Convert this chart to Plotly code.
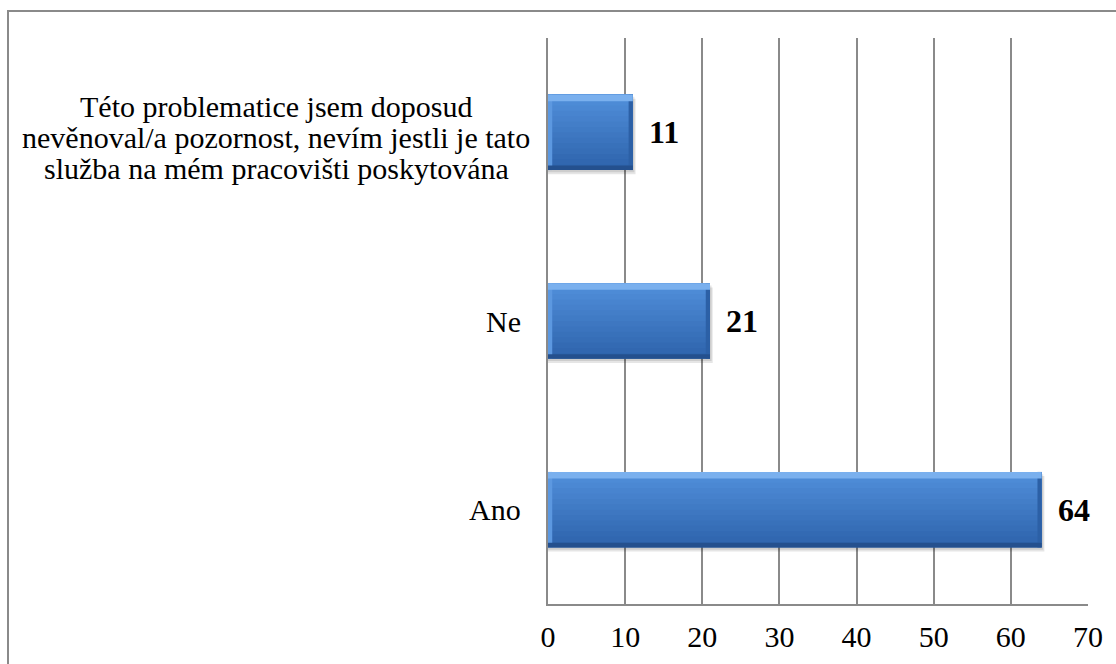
import plotly.graph_objects as go

# Survey answers (bottom to top) and respondent counts
categories = [
    "Ano",
    "Ne",
    "Této problematice jsem doposud<br>nevěnoval/a pozornost, nevím jestli je tato<br>služba na mém pracovišti poskytována",
]
counts = [64, 21, 11]
x_ticks = [0, 10, 20, 30, 40, 50, 60, 70]

FONT = "Liberation Serif"
TEXT_SIZE = 30
pos = list(range(len(categories)))
BAR_W = 0.40
LINE_PX = 31          # line pitch for wrapped category labels
END_BEVEL = 0.55      # width of the bevel at each bar end (axis units)


def hbar(x, width, offset, color, base=None):
    return go.Bar(
        y=pos, x=x, base=base, orientation="h", width=width, offset=offset,
        marker=dict(color=color, line=dict(width=0)),
        hoverinfo="skip", showlegend=False,
    )


fig = go.Figure()

# soft drop shadow, slightly below and right of each bar
fig.add_trace(hbar([v + 0.35 for v in counts], BAR_W, -BAR_W / 2 - 0.022, "rgba(0,0,0,0.10)"))
fig.add_trace(hbar([v + 0.2 for v in counts], BAR_W, -BAR_W / 2 - 0.012, "rgba(0,0,0,0.10)"))

# vertical colour gradient built from overlapping strips
top_rgb = (80, 142, 218)
bot_rgb = (46, 100, 172)
n_strips = 14
strip = BAR_W / n_strips
for i in range(n_strips):
    t = i / (n_strips - 1)
    c = tuple(int(round(bot_rgb[k] + (top_rgb[k] - bot_rgb[k]) * t)) for k in range(3))
    fig.add_trace(hbar(counts, BAR_W - i * strip, -BAR_W / 2 + i * strip, "rgb(%d,%d,%d)" % c))

# bevel: light left edge, darker right end
fig.add_trace(hbar([END_BEVEL] * len(counts), BAR_W, -BAR_W / 2, "rgb(92,152,224)"))
fig.add_trace(hbar([END_BEVEL] * len(counts), BAR_W, -BAR_W / 2, "rgb(44,96,166)",
                   base=[v - END_BEVEL for v in counts]))

# bevel highlight along the top edge and dark rim along the bottom
fig.add_trace(hbar(counts, 0.035, BAR_W / 2 - 0.035, "rgb(122,176,238)"))
fig.add_trace(hbar(counts, 0.024, -BAR_W / 2, "rgb(36,80,142)"))

# value labels to the right of the bars
for p, v in zip(pos, counts):
    fig.add_annotation(
        x=v, y=p, xref="x", yref="y", text="<b>%d</b>" % v, showarrow=False,
        xanchor="left", yanchor="middle", xshift=14,
        font=dict(family=FONT, size=32, color="black"),
    )

# category labels: single lines right-aligned, wrapped lines centred as a block
for p, name in zip(pos, categories):
    lines = name.split("<br>")
    n = len(lines)
    for j, line in enumerate(lines):
        if n == 1:
            fig.add_annotation(
                x=0, y=p, xref="paper", yref="y", text=line, showarrow=False,
                xanchor="right", yanchor="middle", xshift=-25,
                font=dict(family=FONT, size=TEXT_SIZE, color="black"),
            )
        else:
            fig.add_annotation(
                x=-0.5037, y=p, xref="paper", yref="y", text=line, showarrow=False,
                xanchor="center", yanchor="middle",
                yshift=((n - 1) / 2 - j) * LINE_PX - 5,
                font=dict(family=FONT, size=TEXT_SIZE, color="black"),
            )

# outer chart frame
fig.add_shape(
    type="rect", xref="paper", yref="paper",
    x0=-1.0, x1=1.2, y0=-0.3, y1=1.0477,
    line=dict(color="#8a8a8a", width=2), layer="below",
)

fig.update_layout(
    width=1116, height=664,
    margin=dict(l=548, r=28, t=38, b=60),
    paper_bgcolor="white", plot_bgcolor="white",
    barmode="overlay", showlegend=False,
    font=dict(family=FONT, size=TEXT_SIZE, color="black"),
)
fig.update_xaxes(
    range=[0, 70], tickvals=x_ticks, ticktext=[str(t) for t in x_ticks],
    showgrid=True, gridcolor="#8a8a8a", gridwidth=1.5,
    showline=True, linecolor="#8a8a8a", linewidth=1.5,
    zeroline=False, ticks="", ticklabelstandoff=5,
    tickfont=dict(family=FONT, size=TEXT_SIZE, color="black"),
)
fig.update_yaxes(
    range=[-0.5, 2.5], tickvals=pos, showticklabels=False,
    showgrid=False, zeroline=False,
    showline=True, linecolor="#8a8a8a", linewidth=1.5,
)

fig.write_html("out.html")
